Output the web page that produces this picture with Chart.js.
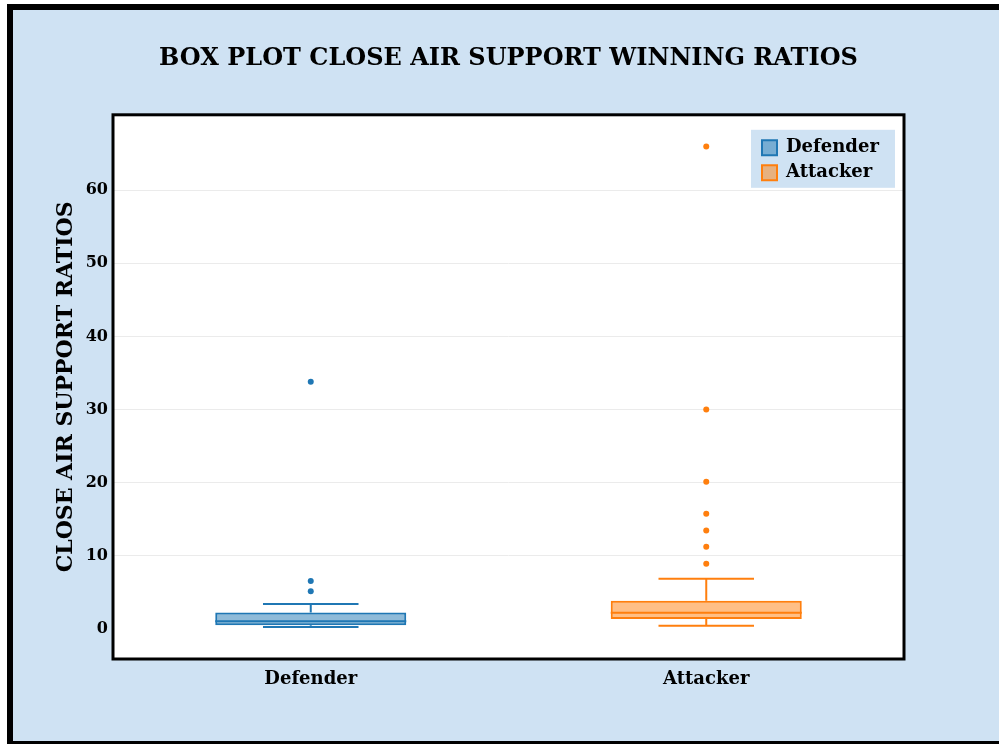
<!DOCTYPE html>
<html><head><meta charset="utf-8">
<script src="https://cdn.jsdelivr.net/npm/chart.js@4.4.1/dist/chart.umd.min.js"></script>
<style>html,body{margin:0;padding:0;background:#fff;}canvas{display:block;}</style>
</head><body>
<canvas id="c" width="999" height="744"></canvas>
<script>
const categories = ['Defender', 'Attacker'];
const seriesNames = ['Defender', 'Attacker'];
const lowerWhisker = [0.2, 0.38];
const q1 = [0.45, 1.3];
const median = [1.0, 2.16];
const q3 = [2.2, 3.8];
const upperWhisker = [3.35, 6.8];
const defenderOutliers = [5.1, 6.5, 33.8];
const attackerOutliers = [8.85, 11.2, 13.4, 15.7, 20.1, 30.0, 66.0];
const yTicks = [0, 10, 20, 30, 40, 50, 60];
const titleText = 'BOX PLOT CLOSE AIR SUPPORT WINNING RATIOS';
const yTitleText = 'CLOSE AIR SUPPORT RATIOS';

const lineColors = ['#1f77b4', '#ff7f0e'];
const fillColors = ['rgba(31,119,180,0.5)', 'rgba(255,127,14,0.5)'];
const FONT = 'DejaVu Serif';
const PAGE_BG = '#cfe2f3';

Chart.defaults.font.family = FONT;
Chart.defaults.color = '#000';

const boxDatasets = seriesNames.map((name, i) => ({
  type: 'bar',
  label: name,
  data: categories.map((c, j) => j === i ? [q1[i], q3[i]] : null),
  backgroundColor: fillColors[i],
  borderColor: lineColors[i],
  borderWidth: 2,
  borderSkipped: false,
  grouped: false,
  barPercentage: 0.483,
  categoryPercentage: 1,
  order: 2
}));

const outlierSets = [defenderOutliers, attackerOutliers];
const outlierDatasets = outlierSets.map((vals, i) => ({
  type: 'scatter',
  label: '',
  isOutlier: true,
  data: vals.map(v => ({ x: categories[i], y: v })),
  backgroundColor: lineColors[i],
  borderColor: lineColors[i],
  borderWidth: 0,
  pointRadius: 3,
  order: 1
}));

const backgroundPlugin = {
  id: 'pageBackground',
  beforeDraw(chart) {
    const { ctx, chartArea: ca, width, height } = chart;
    ctx.save();
    ctx.fillStyle = '#fff';
    ctx.fillRect(0, 0, width, height);
    ctx.fillStyle = PAGE_BG;
    ctx.fillRect(13, 10, width - 13, height - 13);
    ctx.fillStyle = '#000';
    ctx.fillRect(7, 4, width - 7, 6);
    ctx.fillRect(7, 4, 6, height - 4);
    ctx.fillRect(13, height - 3, width - 13, 3);
    ctx.fillStyle = '#fff';
    ctx.fillRect(ca.left, ca.top, ca.right - ca.left, ca.bottom - ca.top);
    ctx.fillStyle = PAGE_BG;
    ctx.fillRect(ca.right - 153, ca.top + 15, 144, 58);
    ctx.restore();
  }
};

const legendPlacePlugin = {
  id: 'legendPlace',
  afterLayout(chart) {
    const lg = chart.legend;
    const ca = chart.chartArea;
    if (!lg) return;
    const L = ca.right - 149;
    const T = ca.top + 17;
    lg.left = L; lg.top = T;
    lg.right = L + lg.width; lg.bottom = T + lg.height;
  }
};

const whiskerPlugin = {
  id: 'whiskers',
  afterDatasetsDraw(chart) {
    const { ctx, scales: { x, y } } = chart;
    categories.forEach((c, i) => {
      const bar = chart.getDatasetMeta(i).data[i];
      const cx = x.getPixelForValue(i);
      const w = bar.width;
      const yMed = y.getPixelForValue(median[i]);
      const yQ1 = y.getPixelForValue(q1[i]);
      const yQ3 = y.getPixelForValue(q3[i]);
      const yLo = y.getPixelForValue(lowerWhisker[i]);
      const yHi = y.getPixelForValue(upperWhisker[i]);
      ctx.save();
      ctx.strokeStyle = lineColors[i];
      ctx.lineWidth = 2;
      ctx.beginPath();
      ctx.moveTo(cx - w / 2, yMed); ctx.lineTo(cx + w / 2, yMed);
      ctx.moveTo(cx, yQ3); ctx.lineTo(cx, yHi);
      ctx.moveTo(cx - w / 4, yHi); ctx.lineTo(cx + w / 4, yHi);
      ctx.moveTo(cx, yQ1); ctx.lineTo(cx, yLo);
      ctx.moveTo(cx - w / 4, yLo); ctx.lineTo(cx + w / 4, yLo);
      ctx.stroke();
      ctx.restore();
    });
  }
};

const framePlugin = {
  id: 'frame',
  afterDraw(chart) {
    const { ctx, chartArea: ca } = chart;
    ctx.save();
    ctx.strokeStyle = '#000';
    ctx.lineWidth = 3;
    ctx.strokeRect(ca.left, ca.top, ca.right - ca.left, ca.bottom - ca.top);
    ctx.restore();
  }
};

new Chart(document.getElementById('c'), {
  type: 'bar',
  data: { labels: categories, datasets: [...boxDatasets, ...outlierDatasets] },
  options: {
    responsive: false,
    animation: false,
    devicePixelRatio: 1,
    events: [],
    layout: { padding: { left: 13, right: 95, top: 10, bottom: 0 } },
    scales: {
      x: {
        type: 'category',
        offset: true,
        afterFit(s) { s.height = 85; },
        grid: { display: false, drawTicks: false },
        border: { display: false },
        ticks: { font: { family: FONT, size: 18, weight: 'bold' }, color: '#000', padding: 10 }
      },
      y: {
        min: -4.18,
        max: 70.34,
        afterFit(s) { s.width = 100; },
        afterBuildTicks(s) { s.ticks = yTicks.map(v => ({ value: v })); },
        grid: {
          color: (c) => (c.tick && c.tick.value === 0) ? 'rgba(0,0,0,0)' : '#ebebeb',
          lineWidth: 1,
          drawTicks: false
        },
        border: { display: false },
        ticks: { font: { family: FONT, size: 16, weight: 'bold' }, color: '#000', padding: 5 },
        title: {
          display: true,
          text: yTitleText,
          color: '#000',
          font: { family: FONT, size: 22, weight: 'bold', lineHeight: 1.2 },
          padding: { top: 40, bottom: 0 }
        }
      }
    },
    plugins: {
      title: {
        display: true,
        text: titleText,
        fullSize: false,
        color: '#000',
        font: { family: FONT, size: 24, weight: 'bold', lineHeight: 1.2 },
        padding: { top: 34, bottom: 42 }
      },
      legend: {
        display: true,
        position: 'chartArea',
        align: 'start',
        labels: {
          font: { family: FONT, size: 18, weight: 'bold' },
          color: '#000',
          boxWidth: 15,
          boxHeight: 15,
          padding: 7,
          filter: (item, data) => !data.datasets[item.datasetIndex].isOutlier
        }
      },
      tooltip: { enabled: false }
    }
  },
  plugins: [backgroundPlugin, legendPlacePlugin, whiskerPlugin, framePlugin]
});
</script>
</body></html>
